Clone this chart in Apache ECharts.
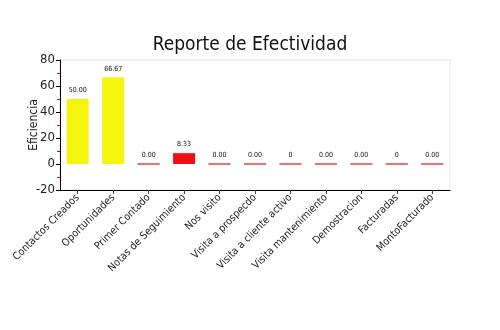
<!DOCTYPE html>
<html>
<head>
<meta charset="utf-8">
<script src="https://cdn.jsdelivr.net/npm/echarts@6/dist/echarts.min.js"></script>
<style>
  html, body { margin: 0; padding: 0; background: #fff; }
  #chart { width: 500px; height: 330px; }
</style>
</head>
<body>
<div id="chart"></div>
<script>
// Efficiency per activity type
const categories = [
  'Contactos Creados', 'Oportunidades', 'Primer Contado', 'Notas de Seguimiento',
  'Nos visito', 'Visita a prospecdo', 'Visita a cliente activo', 'Visita mantenimiento',
  'Demostracion', 'Facturadas', 'MontoFacturado'
];
const efficiency = [50.00, 66.67, 0, 8.33, 0, 0, 0, 0, 0, 0, 0];
const valueLabels = ['50.00', '66.67', '0.00', '8.33', '0.00', '0.00', '0', '0.00', '0.00', '0', '0.00'];
const yTicks = [-20, 0, 20, 40, 60, 80];

const FONT = "'DejaVu Sans Condensed', 'Liberation Sans Narrow', 'Roboto', sans-serif";

const chart = echarts.init(document.getElementById('chart'), null, { renderer: 'canvas' });

chart.setOption({
  animation: false,
  title: {
    text: 'Reporte de Efectividad',
    left: 'center',
    top: 31,
    textStyle: { fontFamily: FONT, fontSize: 19, fontWeight: 'normal', color: '#111' }
  },
  grid: {
    left: 60, right: 50, top: 60, bottom: 140,
    show: true, borderColor: '#e6e6e6', borderWidth: 1, backgroundColor: 'transparent'
  },
  xAxis: {
    type: 'category',
    data: categories,
    axisLine: { onZero: false, lineStyle: { color: '#000', width: 1 } },
    axisTick: { show: true, alignWithLabel: true, length: 4, lineStyle: { color: '#444' } },
    axisLabel: {
      rotate: 45, interval: 0, margin: 6,
      fontFamily: FONT, fontSize: 10.5, color: '#222'
    },
    splitLine: { show: false }
  },
  yAxis: {
    type: 'value',
    min: yTicks[0],
    max: yTicks[yTicks.length - 1],
    interval: 20,
    name: 'Eficiencia',
    nameLocation: 'middle',
    nameGap: 20,
    nameMoveOverlap: false,
    nameTextStyle: { fontFamily: FONT, fontSize: 12, color: '#222' },
    axisLine: { show: true, lineStyle: { color: '#000', width: 1 } },
    axisTick: { show: true, length: 4, lineStyle: { color: '#000' } },
    minorTick: { show: true, splitNumber: 2, length: 3, lineStyle: { color: '#e00000' } },
    axisLabel: { fontFamily: FONT, fontSize: 13, color: '#222', margin: 5 },
    splitLine: { show: false }
  },
  series: [{
    type: 'bar',
    barWidth: 22,
    data: efficiency.map(function (v, i) {
      const high = v >= 50;
      const c = high ? '#f5f50c' : (v > 0 ? '#ee1111' : '#e84040');
      return {
        value: v,
        itemStyle: { color: c, borderColor: c, borderWidth: v > 0 ? 0 : 1 },
        label: {
          show: true,
          position: 'top',
          distance: 5,
          formatter: valueLabels[i],
          fontFamily: FONT,
          fontSize: 7,
          color: '#111'
        }
      };
    })
  }]
});
</script>
</body>
</html>
